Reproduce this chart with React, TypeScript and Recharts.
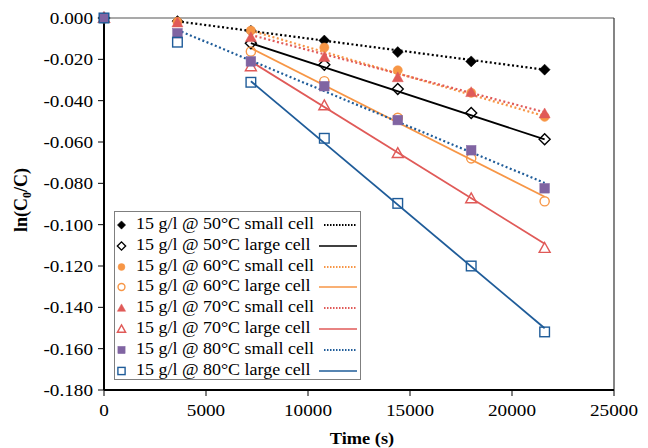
import React from 'react';
import {
  ComposedChart,
  Scatter,
  XAxis,
  YAxis,
  ReferenceLine,
} from 'recharts';

const times = [0, 3600, 7200, 10800, 14400, 18000, 21600];

const small50 = [0, -0.0015, -0.0062, -0.0109, -0.0165, -0.021, -0.025];
const large50 = [0, null, -0.0122, -0.0226, -0.0343, -0.046, -0.0587];
const small60 = [0, -0.0018, -0.0061, -0.0143, -0.0253, -0.0362, -0.0478];
const large60 = [0, null, -0.0162, -0.0306, -0.0483, -0.0679, -0.0887];
const small70 = [0, -0.0022, -0.0093, -0.0189, -0.0287, -0.0359, -0.0462];
const large70 = [0, null, -0.0234, -0.0423, -0.0654, -0.0873, -0.1113];
const small80 = [0, -0.0074, -0.021, -0.033, -0.0494, -0.064, -0.0824];
const large80 = [0, -0.0117, -0.0311, -0.0582, -0.0897, -0.12, -0.1519];

// trend line ends: [start time, end time], [start value, end value]
const fitSmall50 = { t: [3600, 21600], v: [-0.0016, -0.025] };
const fitLarge50 = { t: [7200, 21600], v: [-0.0122, -0.0587] };
const fitSmall60 = { t: [7200, 21600], v: [-0.0061, -0.0475] };
const fitLarge60 = { t: [7200, 21600], v: [-0.0146, -0.0865] };
const fitSmall70 = { t: [7200, 21600], v: [-0.0082, -0.0456] };
const fitLarge70 = { t: [7200, 21600], v: [-0.021, -0.1092] };
const fitSmall80 = { t: [3600, 21600], v: [-0.0058, -0.0798] };
const fitLarge80 = { t: [7200, 21600], v: [-0.0306, -0.1501] };

const xTicks = [0, 5000, 10000, 15000, 20000, 25000];
const yTicks = [0, -0.02, -0.04, -0.06, -0.08, -0.1, -0.12, -0.14, -0.16, -0.18];

const BLACK = '#000000';
const ORANGE = '#f79646';
const RED = '#e05a58';
const PURPLE = '#8064a2';
const BLUE = '#1f5c99';
const SERIF = "'Liberation Serif', 'DejaVu Serif', 'Noto Serif', 'Times New Roman', Times, serif";
const STRETCH = 1.13; // the source image is a bit wide

type Kind = 'diamond' | 'circle' | 'triangle' | 'square';

const toPoints = (vals: (number | null)[]) =>
  vals
    .map((v, i) => ({ x: times[i], y: v }))
    .filter((p) => p.y !== null) as { x: number; y: number }[];

const toFit = (f: { t: number[]; v: number[] }) =>
  f.t.map((t, i) => ({ x: t, y: f.v[i] }));

const series = [
  { name: '15 g/l @ 50°C small cell', vals: small50, fit: fitSmall50, kind: 'diamond' as Kind, fill: BLACK, line: BLACK, dotted: true },
  { name: '15 g/l @ 50°C large cell', vals: large50, fit: fitLarge50, kind: 'diamond' as Kind, fill: 'none', line: BLACK, dotted: false },
  { name: '15 g/l @ 60°C small cell', vals: small60, fit: fitSmall60, kind: 'circle' as Kind, fill: ORANGE, line: ORANGE, dotted: true },
  { name: '15 g/l @ 60°C large cell', vals: large60, fit: fitLarge60, kind: 'circle' as Kind, fill: 'none', line: ORANGE, dotted: false },
  { name: '15 g/l @ 70°C small cell', vals: small70, fit: fitSmall70, kind: 'triangle' as Kind, fill: RED, line: RED, dotted: true },
  { name: '15 g/l @ 70°C large cell', vals: large70, fit: fitLarge70, kind: 'triangle' as Kind, fill: 'none', line: RED, dotted: false },
  { name: '15 g/l @ 80°C small cell', vals: small80, fit: fitSmall80, kind: 'square' as Kind, fill: PURPLE, line: BLUE, dotted: true },
  { name: '15 g/l @ 80°C large cell', vals: large80, fit: fitLarge80, kind: 'square' as Kind, fill: 'none', line: BLUE, dotted: false },
];

function Marker({ cx, cy, kind, fill, stroke, s = 1 }: { cx: number; cy: number; kind: Kind; fill: string; stroke: string; s?: number }) {
  const open = fill === 'none';
  const common = {
    fill: open ? 'none' : fill,
    stroke: open ? stroke : fill,
    strokeWidth: open ? 1.4 : 0.5,
  };
  if (kind === 'diamond') {
    const r = 5.5 * s;
    return <polygon points={`${cx},${cy - r} ${cx + r},${cy} ${cx},${cy + r} ${cx - r},${cy}`} {...common} />;
  }
  if (kind === 'circle') return <circle cx={cx} cy={cy} r={4.6 * s} {...common} />;
  if (kind === 'triangle') {
    const r = 5.5 * s;
    return <polygon points={`${cx},${cy - r} ${cx + r},${cy + r * 0.8} ${cx - r},${cy + r * 0.8}`} {...common} />;
  }
  const h = 4.8 * s;
  return <rect x={cx - h} y={cy - h} width={h * 2} height={h * 2} {...common} />;
}

const XTick = ({ x, y, payload }: any) => (
  <text transform={`translate(${x},${y}) scale(${STRETCH},1)`} textAnchor="middle" dy="0.71em" fontSize={17} fontFamily={SERIF} fill="#000">
    {payload.value}
  </text>
);

const YTick = ({ x, y, payload }: any) => {
  const v = payload.value as number;
  return (
    <text transform={`translate(${x},${y}) scale(${STRETCH},1)`} textAnchor="end" dy="0.355em" fontSize={17} fontFamily={SERIF} fill="#000">
      {Math.abs(v) < 1e-9 ? '0.000' : v.toFixed(3)}
    </text>
  );
};

function LegendBox() {
  return (
    <div
      style={{
        position: 'absolute',
        left: 114,
        top: 211,
        width: 247,
        height: 169,
        border: '1.5px solid #7f7f7f',
        background: '#fff',
        boxSizing: 'border-box',
        fontFamily: SERIF,
        fontSize: 16.2,
      }}
    >
      {series.map((s, i) => (
        <div key={s.name} style={{ position: 'absolute', left: 0, top: 2 + i * 20.8, width: 244, height: 20.8, whiteSpace: 'nowrap' }}>
          <svg width={14} height={14} style={{ position: 'absolute', left: 0, top: 4 }}>
            <Marker cx={6.5} cy={7} kind={s.kind} fill={s.fill} stroke={s.line} s={0.75} />
          </svg>
          <span
            style={{
              position: 'absolute',
              left: 21,
              top: 0,
              lineHeight: '20.8px',
              transform: `scaleX(${STRETCH - 0.02})`,
              transformOrigin: 'left center',
            }}
          >
            {s.name}
          </span>
          <svg width={40} height={10} style={{ position: 'absolute', left: s.dotted ? 209 : 204, top: 6 }}>
            <line x1={0} y1={5} x2={s.dotted ? 33 : 38} y2={5} stroke={s.line} strokeWidth={s.dotted ? 1.8 : 1.6} strokeDasharray={s.dotted ? '1.5 1.5' : undefined} />
          </svg>
        </div>
      ))}
    </div>
  );
}

export default function App() {
  return (
    <div style={{ position: 'absolute', left: 0, top: 0, width: 648, height: 448, background: '#fff' }}>
      <ComposedChart width={648} height={448} margin={{ top: 18, right: 34, bottom: 0, left: 0 }}>
        <XAxis
          type="number"
          dataKey="x"
          domain={[0, 25000]}
          ticks={xTicks}
          tick={<XTick />}
          tickSize={6}
          tickMargin={8}
          axisLine={{ stroke: '#000', strokeWidth: 2 }}
          tickLine={{ stroke: '#000' }}
          height={58}
          label={{
            content: () => (
              <text transform={`translate(362,444) scale(1.08,1)`} textAnchor="middle" fontFamily={SERIF} fontSize={17} fontWeight="bold" fill="#000">
                Time (s)
              </text>
            ),
          }}
        />
        <YAxis
          type="number"
          dataKey="y"
          domain={[-0.18, 0]}
          ticks={yTicks}
          tick={<YTick />}
          tickSize={6}
          tickMargin={5}
          width={104}
          axisLine={{ stroke: '#000', strokeWidth: 2 }}
          tickLine={{ stroke: '#000' }}
          label={{
            content: () => (
              <text transform="translate(27,200) rotate(-90)" textAnchor="middle" fontFamily={SERIF} fontSize={18} fontWeight="bold" fill="#000">
                ln(C<tspan dy={4} fontSize={12}>0</tspan>
                <tspan dy={-4}>/C)</tspan>
              </text>
            ),
          }}
        />
        <ReferenceLine y={0} stroke="#555" strokeWidth={1.2} />
        <ReferenceLine x={25000} stroke="#333" strokeWidth={1.2} />
        {series.map((s) => (
          <Scatter
            key={`fit-${s.name}`}
            data={toFit(s.fit)}
            line={{ stroke: s.line, strokeWidth: s.dotted ? 2.2 : 1.8, strokeDasharray: s.dotted ? '2 2.5' : undefined }}
            shape={() => <g />}
            legendType="none"
            isAnimationActive={false}
          />
        ))}
        {series.map((s) => (
          <Scatter
            key={s.name}
            name={s.name}
            data={toPoints(s.vals)}
            shape={(p: any) => <Marker cx={p.cx} cy={p.cy} kind={s.kind} fill={s.fill} stroke={s.line} />}
            isAnimationActive={false}
          />
        ))}
      </ComposedChart>
      <LegendBox />
    </div>
  );
}
